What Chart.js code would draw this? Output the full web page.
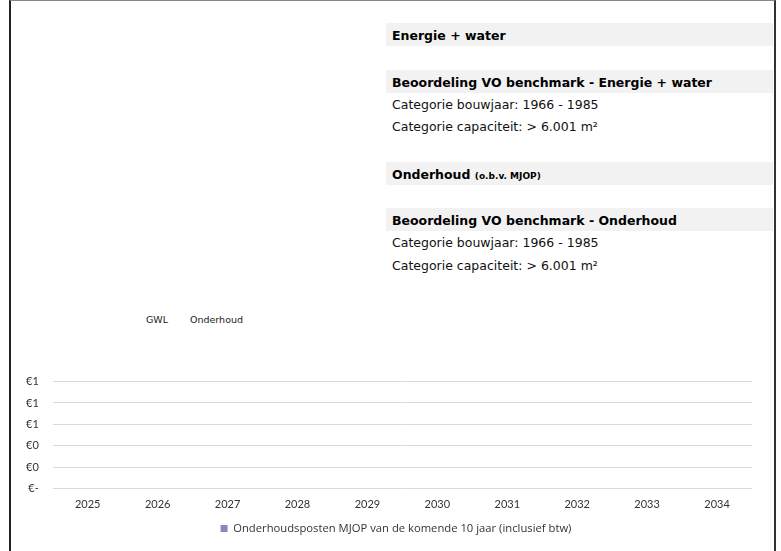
<!DOCTYPE html>
<html><head><meta charset="utf-8">
<script src="https://cdn.jsdelivr.net/npm/chart.js@4/dist/chart.umd.min.js"></script>
<style>
html,body{margin:0;padding:0;background:#fff;width:781px;height:551px;overflow:hidden;font-family:"DejaVu Sans",sans-serif;}
#frame{position:absolute;left:9px;top:0;width:763px;height:560px;border-left:2px solid #222;border-right:2px solid #333;border-top:1px solid #888;}
.bar{position:absolute;left:386px;width:387px;height:23px;background:#f2f2f2;}
.t{position:absolute;left:392px;color:#000;white-space:nowrap;}
.h{font-weight:bold;font-size:12.5px;}
.n{font-size:12.5px;color:#111;}
.s{font-size:9px;font-weight:bold;}
.lbl{position:absolute;font-size:9.5px;color:#222;}
#wrap{position:absolute;left:11px;top:361px;width:761px;height:183px;}
</style></head>
<body>
<div id="frame"></div>
<div class="bar" style="top:23px"></div>
<div class="t h" style="top:28px">Energie + water</div>
<div class="bar" style="top:70px"></div>
<div class="t h" style="top:75px">Beoordeling VO benchmark - Energie + water</div>
<div class="t n" style="top:97px">Categorie bouwjaar: 1966 - 1985</div>
<div class="t n" style="top:119px">Categorie capaciteit: &gt; 6.001 m²</div>
<div class="bar" style="top:162px"></div>
<div class="t h" style="top:167px">Onderhoud <span class="s">(o.b.v. MJOP)</span></div>
<div class="bar" style="top:208px"></div>
<div class="t h" style="top:213px">Beoordeling VO benchmark - Onderhoud</div>
<div class="t n" style="top:235px">Categorie bouwjaar: 1966 - 1985</div>
<div class="t n" style="top:258px">Categorie capaciteit: &gt; 6.001 m²</div>
<div class="lbl" style="left:146px;top:314px">GWL</div>
<div class="lbl" style="left:190px;top:314px">Onderhoud</div>
<div id="wrap"><canvas id="c"></canvas></div>
<script>
const years = ["2025","2026","2027","2028","2029","2030","2031","2032","2033","2034"];
const onderhoudsposten = [0,0,0,0,0,0,0,0,0,0];
const seriesLabel = "Onderhoudsposten MJOP van de komende 10 jaar (inclusief btw)";
const yTicks = [0,0.2,0.4,0.6,0.8,1.0];

const legendShift = {
  id: 'legendShift',
  afterLayout(chart) {
    if (chart.legend) { chart.legend.left += 14; chart.legend.right += 14; }
  }
};

new Chart(document.getElementById('c'), {
  type: 'bar',
  data: {
    labels: years,
    datasets: [{
      label: seriesLabel,
      data: onderhoudsposten,
      backgroundColor: '#9a80b8',
      borderWidth: 0
    }]
  },
  plugins: [legendShift],
  options: {
    responsive: true,
    maintainAspectRatio: false,
    animation: false,
    layout: {padding: {left: 1, right: 20, top: 0, bottom: 0}},
    plugins: {
      legend: {
        position: 'bottom',
        labels: {boxWidth: 7, boxHeight: 7, color: '#333', font: {family: 'Open Sans', size: 11.25}, padding: 9}
      },
      tooltip: {enabled: false}
    },
    scales: {
      x: {
        grid: {display: false},
        border: {display: false},
        afterFit: (axis) => { axis.height += 2; },
        ticks: {color: '#333', font: {family: 'Lato', size: 11}, padding: 1}
      },
      y: {
        min: 0, max: 1,
        afterBuildTicks: (axis) => { axis.ticks = yTicks.map(v => ({value: v})); },
        grid: {color: '#d9d9d9', lineWidth: 1, drawTicks: false},
        border: {display: false},
        ticks: {
          color: '#333', font: {family: 'Lato', size: 11}, padding: 14,
          callback: (v) => v === 0 ? '€-' : '€' + Math.round(v)
        }
      }
    }
  }
});
</script>
</body></html>
